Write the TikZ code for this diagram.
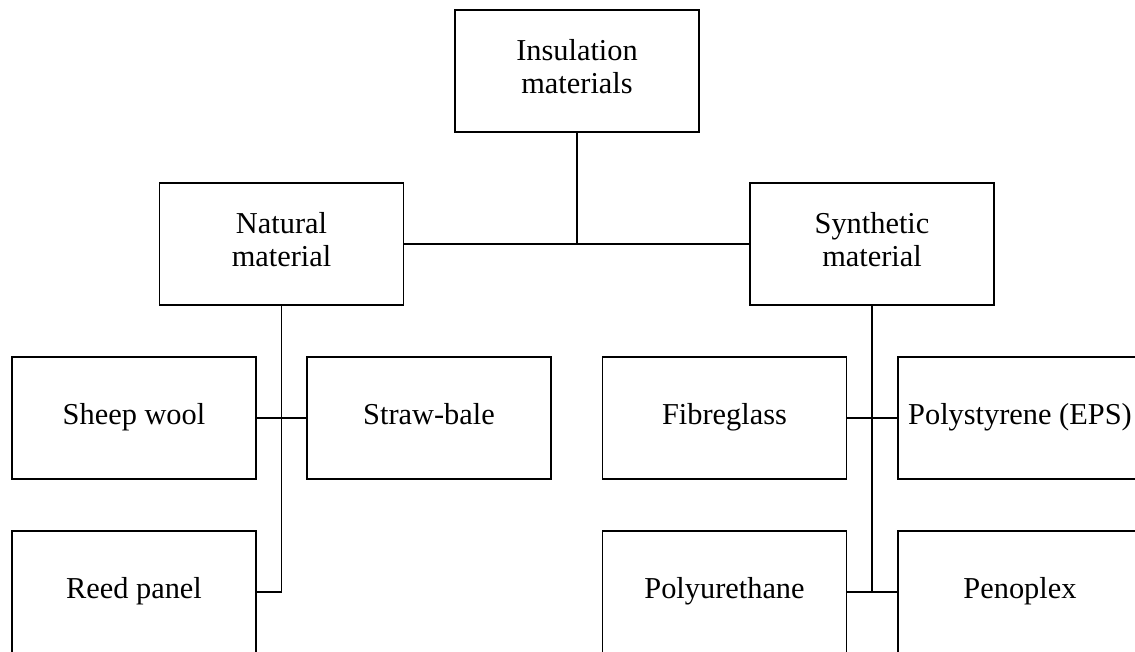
\documentclass[tikz,border=0pt]{standalone}
\usepackage{fontspec}
\setmainfont{Liberation Serif}
\usetikzlibrary{positioning, calc}
\colorlet{boxline}{black}
\colorlet{linkline}{black}

\begin{document}
\begin{tikzpicture}[
    x=0.025cm, y=-0.025cm,
    font=\fontsize{21.6}{23.5}\selectfont,
    matbox/.style={draw=boxline, line width=1pt, minimum width=6.1cm,
                   minimum height=3.05cm, align=center, inner sep=2pt,
                   execute at begin node=\strut, execute at end node=\strut},
    link/.style={draw=linkline, line width=0.8pt},
    trunk/.style={draw=linkline, line width=1.3pt},
]

\useasboundingbox (0, 0) rectangle (1135, 651);
\clip (0, 0) rectangle (1135, 651);

% ════════════════════════════════════════════════════════════
% TOP: root and the two families
% ════════════════════════════════════════════════════════════
\node[matbox] (ins) at (577, 71)    {Insulation\\materials};
\node[matbox] (nat) at (281.5, 244) {Natural\\material};
\node[matbox] (syn) at (872, 244)   {Synthetic\\material};

\draw[link] (nat.east) -- (syn.west);
\draw[link] (ins.south) -- (ins.south |- nat.east);

% ════════════════════════════════════════════════════════════
% LEFT: natural materials
% ════════════════════════════════════════════════════════════
\node[matbox] (sheep) at (134, 418) {Sheep wool};
\node[matbox] (straw) at (429, 418) {Straw-bale};
\node[matbox] (reed)  at (134, 592) {Reed panel};

\draw[trunk] (nat.south) |- (reed.east);
\draw[link] (sheep.east) -- (straw.west);

% ════════════════════════════════════════════════════════════
% RIGHT: synthetic materials
% ════════════════════════════════════════════════════════════
\node[matbox] (fibre) at (724.5, 418) {Fibreglass};
\node[matbox] (poly)  at (1020, 418)  {Polystyrene (EPS)};
\node[matbox] (pur)   at (724.5, 592) {Polyurethane};
\node[matbox] (peno)  at (1020, 592)  {Penoplex};

\draw[trunk] (syn.south) -- (syn.south |- pur.east);
\draw[link] (fibre.east) -- (poly.west);
\draw[trunk] (pur.east) -- (peno.west);

\end{tikzpicture}
\end{document}
